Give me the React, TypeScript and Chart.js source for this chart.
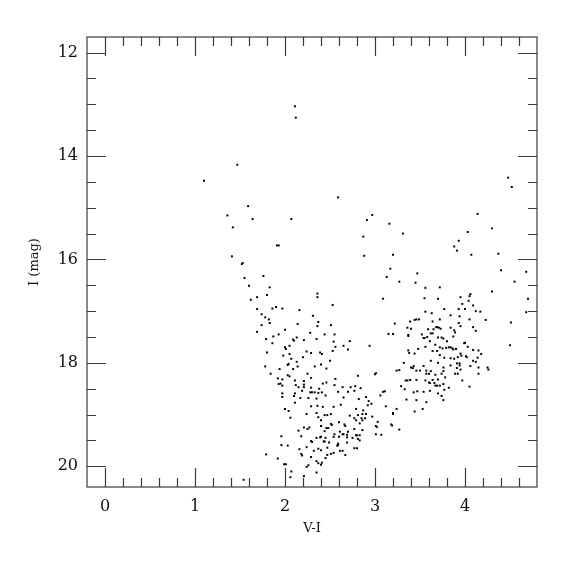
import React, { useEffect, useRef } from "react";
import { Chart, registerables } from "chart.js";

Chart.register(...registerables);

// Axis ticks / labels
const xTickValues = [0, 1, 2, 3, 4];
const yTickValues = [12, 14, 16, 18, 20];
const xTitle = "V-I";
const yTitle = "I (mag)";

// Stars: [V-I, I]
const brightStars: [number, number][] = [
  [2.11, 13.04], [2.12, 13.26], [1.10, 14.48], [1.47, 14.17], [2.59, 14.80], [4.48, 14.42], [4.52, 14.60],
  [1.59, 14.97], [1.36, 15.15], [1.64, 15.22], [2.07, 15.22], [1.42, 15.38], [2.97, 15.14], [2.91, 15.24],
  [3.16, 15.31], [2.87, 15.56], [3.31, 15.50], [4.14, 15.12], [4.30, 15.40], [4.03, 15.47], [3.88, 15.75],
  [3.93, 15.64], [3.91, 15.83], [4.07, 15.91], [4.37, 15.89], [1.91, 15.73], [1.93, 15.73], [1.41, 15.94],
  [2.88, 15.93], [3.20, 15.91], [1.52, 16.09], [1.53, 16.07], [3.17, 16.18], [3.47, 16.27], [4.40, 16.21],
  [4.68, 16.24], [1.55, 16.36], [1.76, 16.32], [3.13, 16.34], [3.45, 16.45], [3.27, 16.43], [4.55, 16.43],
  [1.60, 16.51], [3.72, 16.54], [4.30, 16.62], [1.83, 16.54], [3.56, 16.55],
];

const blueUpper: [number, number][] = [
  [1.69, 16.73], [1.80, 16.69], [1.62, 16.78], [1.69, 16.96], [1.86, 16.95], [1.90, 16.92], [1.97, 16.95],
  [2.16, 16.98], [1.74, 17.06], [1.78, 17.12], [1.82, 17.16], [1.74, 17.27], [1.83, 17.23], [1.69, 17.40],
  [2.00, 17.36], [1.93, 17.45], [2.14, 17.25], [1.87, 17.49], [1.79, 17.54], [2.13, 17.51], [2.09, 17.55],
  [2.10, 17.57], [2.21, 17.56], [1.86, 17.62], [2.05, 17.67], [2.00, 17.70], [2.01, 17.73], [1.80, 17.80],
  [2.05, 17.83], [1.98, 17.86], [2.07, 17.92], [2.13, 17.98], [2.20, 17.89], [2.04, 18.02],
];

const blueLower: [number, number][] = [
  [1.78, 18.07], [1.94, 18.12], [2.03, 18.04], [2.14, 18.07], [2.09, 18.12], [1.84, 18.21], [2.03, 18.24],
  [2.05, 18.26], [1.92, 18.30], [1.97, 18.32], [2.11, 18.34], [2.21, 18.35], [1.93, 18.41], [1.95, 18.40],
  [1.97, 18.44], [2.12, 18.43], [2.15, 18.47], [2.21, 18.42], [2.21, 18.47], [2.19, 18.54], [1.97, 18.59],
  [2.11, 18.59], [1.97, 18.66], [2.10, 18.64], [2.17, 18.68], [2.11, 18.77], [2.00, 18.89], [2.04, 18.93],
  [2.06, 19.06], [2.21, 19.25], [2.15, 19.31], [1.96, 19.42], [2.18, 19.42], [1.96, 19.59], [2.03, 19.60],
  [2.16, 19.67], [1.79, 19.77], [2.18, 19.76], [2.19, 19.79], [1.92, 19.85], [1.99, 19.96], [2.01, 19.96],
  [2.07, 20.10], [2.06, 20.21], [2.21, 20.19], [1.54, 20.26],
];

const middleUpper: [number, number][] = [
  [2.36, 16.66], [2.36, 16.73], [2.53, 16.88], [3.09, 16.76], [3.55, 16.75], [3.56, 17.01], [2.31, 17.09],
  [2.37, 17.21], [2.36, 17.29], [2.51, 17.27], [2.28, 17.42], [2.44, 17.45], [2.55, 17.45], [2.35, 17.54],
  [3.22, 17.24], [3.39, 17.20], [3.44, 17.17], [3.46, 17.16], [3.49, 17.16], [3.36, 17.32], [3.40, 17.34],
  [3.59, 17.35], [3.15, 17.44], [3.20, 17.44], [3.37, 17.46], [3.37, 17.48], [3.52, 17.45], [3.58, 17.50],
  [3.54, 17.52], [3.55, 17.52], [2.54, 17.59], [2.72, 17.58], [2.65, 17.67], [2.70, 17.74], [2.56, 17.69],
  [2.94, 17.67], [2.24, 17.78], [2.29, 17.81], [2.39, 17.80], [2.41, 17.83], [2.53, 17.77], [2.50, 17.96],
  [2.40, 18.03], [3.37, 17.76], [3.38, 17.81], [3.48, 17.73], [3.44, 17.82], [3.56, 17.69], [3.32, 18.00],
];

const middleLower: [number, number][] = [
  [2.33, 18.07], [2.46, 18.11], [2.25, 18.21], [2.29, 18.29], [2.81, 18.25], [2.56, 18.31], [2.42, 18.40],
  [2.46, 18.38], [2.29, 18.48], [2.38, 18.50], [2.28, 18.57], [2.30, 18.57], [2.33, 18.57], [2.37, 18.58],
  [2.41, 18.57], [2.55, 18.43], [2.59, 18.56], [2.64, 18.47], [2.70, 18.56], [2.73, 18.47], [2.77, 18.54],
  [2.78, 18.45], [2.84, 18.49], [2.26, 18.68], [2.35, 18.69], [2.45, 18.63], [2.65, 18.67], [2.82, 18.70],
  [2.90, 18.66], [2.93, 18.74], [3.06, 18.63], [3.09, 18.56], [3.11, 18.55], [3.00, 18.22], [3.01, 18.20],
  [3.24, 18.15], [3.27, 18.14], [2.29, 18.84], [2.36, 18.83], [2.42, 18.85], [2.54, 18.85], [2.62, 18.81],
  [2.79, 18.89], [2.87, 18.92], [2.92, 18.82], [2.96, 18.79], [3.12, 18.84], [3.24, 18.89], [3.20, 18.97],
  [3.20, 18.99], [2.24, 18.99], [2.35, 18.97], [2.37, 19.05], [2.44, 19.01], [2.47, 19.01], [2.51, 18.99],
  [2.72, 19.02], [2.77, 19.07], [2.81, 19.01], [2.86, 18.99], [2.90, 18.99], [2.85, 19.07], [2.89, 19.07],
  [2.97, 19.04], [2.40, 19.11], [2.51, 19.18], [2.52, 19.20], [2.60, 19.15], [2.66, 19.19], [2.67, 19.22],
  [2.79, 19.11], [2.83, 19.17], [2.86, 19.11], [3.03, 19.14], [3.01, 19.22], [3.02, 19.24], [3.18, 19.19],
  [3.19, 19.21], [2.27, 19.25], [2.25, 19.28], [2.40, 19.22], [2.46, 19.26], [2.48, 19.26], [3.27, 19.29],
  [2.61, 19.33], [2.70, 19.33], [2.77, 19.28], [2.86, 19.30], [2.44, 19.32], [2.55, 19.38], [2.64, 19.38],
  [2.65, 19.38], [2.69, 19.39], [2.79, 19.40], [2.80, 19.40], [2.83, 19.40], [3.01, 19.38], [3.07, 19.39],
  [2.39, 19.44], [2.40, 19.43], [2.35, 19.45], [2.45, 19.45], [2.54, 19.43], [2.60, 19.43], [2.69, 19.44],
  [2.75, 19.45], [2.81, 19.47], [2.29, 19.51], [2.30, 19.53], [2.43, 19.52], [2.44, 19.52], [2.49, 19.54],
  [2.59, 19.56], [2.59, 19.59], [2.69, 19.54], [2.83, 19.50], [2.24, 19.63], [2.37, 19.66], [2.47, 19.64],
  [2.58, 19.60], [2.77, 19.65], [2.80, 19.65], [2.32, 19.70], [2.40, 19.69], [2.61, 19.70], [2.64, 19.70],
  [2.54, 19.74], [2.51, 19.76], [2.47, 19.78], [2.67, 19.78], [2.45, 19.84], [2.29, 19.82], [2.35, 19.90],
  [2.37, 19.94], [2.40, 19.97], [2.41, 19.93], [2.26, 19.98], [2.24, 20.01], [2.35, 20.12],
  [3.40, 18.09], [3.43, 18.06], [3.46, 18.15], [3.50, 18.15], [3.57, 18.15], [3.54, 18.06], [3.57, 18.21],
  [3.60, 18.21], [3.42, 18.10], [3.34, 18.34], [3.36, 18.34], [3.39, 18.33], [3.46, 18.33], [3.56, 18.34],
  [3.60, 18.38], [3.29, 18.45], [3.33, 18.51], [3.43, 18.57], [3.47, 18.55], [3.54, 18.56], [3.35, 18.71],
  [3.46, 18.72], [3.57, 18.76], [3.44, 18.94], [3.53, 18.89],
];

const redUpper: [number, number][] = [
  [4.06, 16.67], [4.05, 16.71], [3.70, 16.76], [4.70, 16.76], [3.95, 16.73], [4.04, 16.80], [3.97, 16.86],
  [4.09, 16.89], [3.77, 16.96], [3.93, 16.96], [4.00, 16.96], [4.12, 17.00], [4.17, 17.01], [4.68, 17.02],
  [3.63, 17.04], [3.84, 17.08], [3.94, 17.10], [3.72, 17.16], [3.64, 17.20], [4.05, 17.16], [4.23, 17.17],
  [3.93, 17.23], [3.95, 17.29], [4.51, 17.22], [3.68, 17.31], [3.69, 17.31], [3.71, 17.32], [3.65, 17.35],
  [3.73, 17.34], [3.84, 17.32], [4.09, 17.31], [3.88, 17.37], [3.89, 17.41], [4.12, 17.38], [3.62, 17.43],
  [3.64, 17.43], [3.87, 17.49], [3.70, 17.51], [3.74, 17.51], [3.76, 17.53], [3.61, 17.58], [3.80, 17.58],
  [3.67, 17.65], [3.99, 17.62], [4.00, 17.61], [4.50, 17.66], [3.72, 17.70], [3.75, 17.72], [3.79, 17.71],
  [3.82, 17.70], [3.84, 17.70], [3.86, 17.72], [3.87, 17.74], [3.90, 17.73], [4.03, 17.69], [4.09, 17.75],
  [4.15, 17.76], [3.64, 17.77], [3.69, 17.77], [4.18, 17.83], [3.95, 17.82], [3.96, 17.86], [4.01, 17.87],
  [4.02, 17.89], [3.72, 17.85], [3.77, 17.90], [3.84, 17.91], [3.88, 17.92], [3.92, 17.89], [4.14, 17.90],
  [4.09, 17.96], [4.12, 17.98], [3.62, 17.96], [3.70, 18.00], [3.91, 18.01], [3.94, 18.01],
];

const redLower: [number, number][] = [
  [3.84, 18.05], [3.94, 18.05], [4.06, 18.06], [4.15, 18.09], [4.25, 18.09], [4.26, 18.13], [3.91, 18.10],
  [3.95, 18.13], [3.76, 18.09], [3.76, 18.16], [3.62, 18.16], [3.74, 18.21], [3.67, 18.23], [3.89, 18.21],
  [3.92, 18.21], [4.15, 18.21], [3.78, 18.28], [3.64, 18.33], [3.70, 18.32], [3.97, 18.34], [3.66, 18.39],
  [3.61, 18.39], [3.76, 18.41], [3.67, 18.44], [3.69, 18.44], [3.72, 18.44], [3.82, 18.48], [3.77, 18.52],
  [4.05, 18.46], [3.61, 18.54], [3.70, 18.59], [3.74, 18.64], [3.76, 18.72],
];

const allStars = [
  ...brightStars, ...blueUpper, ...blueLower, ...middleUpper, ...middleLower, ...redUpper, ...redLower,
];

const TICK_COLOR = "#3a3a3a";

const frameTicks = {
  id: "frameTicks",
  afterDatasetsDraw(chart: any) {
    const { ctx, chartArea, scales } = chart;
    const { left, right, top, bottom } = chartArea;
    const xs = scales.x;
    const ys = scales.y;
    ctx.save();
    ctx.strokeStyle = TICK_COLOR;
    ctx.lineWidth = 1.2;
    ctx.beginPath();
    for (let i = 0; i <= 24; i++) {
      const v = i * 0.2;
      const px = Math.round(xs.getPixelForValue(v)) + 0.5;
      if (px <= left + 1 || px >= right - 1) continue;
      const len = i % 5 === 0 ? 19 : 9;
      ctx.moveTo(px, bottom);
      ctx.lineTo(px, bottom - len);
      ctx.moveTo(px, top);
      ctx.lineTo(px, top + len);
    }
    for (let i = 0; i <= 16; i++) {
      const v = 12 + i * 0.5;
      const py = Math.round(ys.getPixelForValue(v)) + 0.5;
      if (py <= top + 1 || py >= bottom - 1) continue;
      const len = i % 4 === 0 ? 19 : 9;
      ctx.moveTo(left, py);
      ctx.lineTo(left + len, py);
      ctx.moveTo(right, py);
      ctx.lineTo(right - len, py);
    }
    ctx.stroke();
    ctx.strokeRect(left, top, right - left, bottom - top);
    ctx.restore();
  },
};

export default function App() {
  const canvasRef = useRef<HTMLCanvasElement | null>(null);

  useEffect(() => {
    if (!canvasRef.current) return;
    const chart = new Chart(canvasRef.current, {
      type: "scatter",
      data: {
        datasets: [
          {
            data: allStars.map(([x, y]) => ({ x, y })),
            pointStyle: "rect",
            pointRadius: 1.4,
            pointBorderWidth: 0,
            backgroundColor: "#000",
            borderColor: "#000",
          },
        ],
      },
      options: {
        animation: false,
        responsive: false,
        devicePixelRatio: 1,
        layout: { padding: { top: 37, right: 38, left: 0, bottom: 0 } },
        plugins: { legend: { display: false }, tooltip: { enabled: false } },
        scales: {
          x: {
            type: "linear",
            position: "bottom",
            min: -0.2,
            max: 4.8,
            grid: { display: false, drawTicks: false },
            border: { display: false },
            ticks: {
              includeBounds: false,
              padding: 10,
              color: "#111",
              font: { family: "DejaVu Serif", size: 16 },
            },
            afterBuildTicks: (scale: any) => {
              scale.ticks = xTickValues.map((value) => ({ value }));
            },
            afterFit: (scale: any) => {
              scale.height = 88;
            },
            title: {
              display: true,
              text: xTitle,
              color: "#111",
              font: { family: "DejaVu Serif", size: 13 },
              padding: { top: 0, bottom: 39 },
            },
          },
          y: {
            type: "linear",
            reverse: true,
            min: 11.7,
            max: 20.4,
            grid: { display: false, drawTicks: false },
            border: { display: false },
            ticks: {
              includeBounds: false,
              padding: 9,
              color: "#111",
              font: { family: "DejaVu Serif", size: 16 },
            },
            afterBuildTicks: (scale: any) => {
              scale.ticks = yTickValues.map((value) => ({ value }));
            },
            afterFit: (scale: any) => {
              scale.width = 87;
            },
            title: {
              display: true,
              text: yTitle,
              color: "#111",
              font: { family: "DejaVu Serif", size: 13 },
              padding: { top: 27, bottom: 0 },
            },
          },
        },
      },
      plugins: [frameTicks],
    });
    return () => chart.destroy();
  }, []);

  return (
    <div style={{ position: "fixed", left: 0, top: 0, width: 575, height: 575, background: "#fff" }}>
      <canvas ref={canvasRef} width={575} height={575} style={{ display: "block" }} />
    </div>
  );
}
